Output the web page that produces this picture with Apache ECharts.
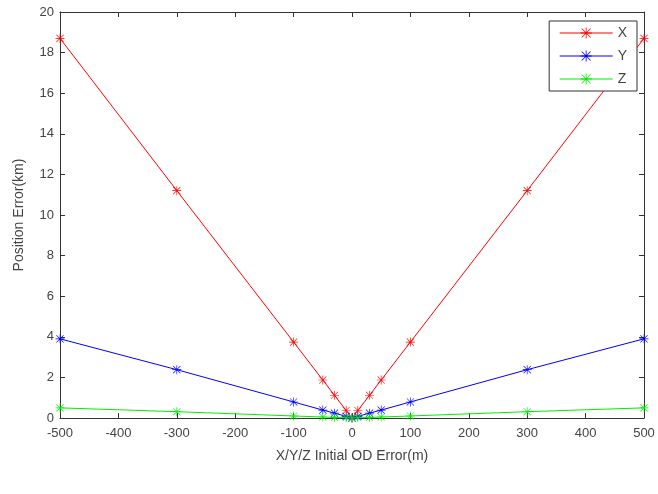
<!DOCTYPE html>
<html>
<head>
<meta charset="utf-8">
<script src="https://cdn.jsdelivr.net/npm/echarts@6/dist/echarts.min.js"></script>
<style>html,body{margin:0;padding:0;background:#fff}#c{width:658px;height:494px}</style>
</head>
<body>
<div id="c"></div>
<script>
const xErr = [-500, -300, -100, -50, -30, -10, 0, 10, 30, 50, 100, 300, 500];
const seriesX = [18.7, 11.2, 3.74, 1.87, 1.12, 0.37, 0, 0.37, 1.12, 1.87, 3.74, 11.2, 18.7];
const seriesY = [3.9, 2.38, 0.79, 0.39, 0.24, 0.08, 0, 0.08, 0.24, 0.39, 0.79, 2.38, 3.9];
const seriesZ = [0.5, 0.31, 0.1, 0.05, 0.03, 0.01, 0, 0.01, 0.03, 0.05, 0.1, 0.31, 0.5];
const names = ['X', 'Y', 'Z'];
const colors = ['#ff0000', '#0000ff', '#00ee00'];

const star = 'path://M0 9.3L20 9.3L20 10.7L0 10.7Z M9.3 0L10.7 0L10.7 20L9.3 20Z M2.5 1.5L18.5 17.5L17.5 18.5L1.5 2.5Z M18.5 2.5L2.5 18.5L1.5 17.5L17.5 1.5Z';

const font = 'Liberation Sans, Arial, sans-serif';
const axCol = '#333';

function mk(name, vals, col) {
  return {
    name: name, type: 'line',
    data: xErr.map((x, i) => [x, vals[i]]),
    symbol: star, symbolSize: 9,
    lineStyle: {color: col, width: 1},
    itemStyle: {color: col},
    animation: false
  };
}

const chart = echarts.init(document.getElementById('c'));
chart.setOption({
  backgroundColor: '#fff',
  textStyle: {fontFamily: font},
  grid: {left: 60, right: 14, top: 12, bottom: 76, containLabel: false},
  legend: {
    orient: 'vertical', right: 21, top: 21,
    data: names,
    itemWidth: 53, itemHeight: 14, itemGap: 9,
    padding: [5, 10, 5, 10],
    lineStyle: {width: 1},
    borderColor: axCol, borderWidth: 1, backgroundColor: '#fff',
    textStyle: {fontSize: 14, color: '#444', fontFamily: font}
  },
  xAxis: [{
    type: 'value', min: -500, max: 500, interval: 100, position: 'bottom',
    name: 'X/Y/Z Initial OD Error(m)', nameLocation: 'middle', nameGap: 31,
    nameTextStyle: {fontSize: 14, color: '#444', fontFamily: font},
    axisLine: {show: true, lineStyle: {color: axCol, width: 1}},
    axisTick: {show: true, inside: true, length: 5, lineStyle: {color: axCol}},
    axisLabel: {fontSize: 13, color: '#444', margin: 9, fontFamily: font},
    splitLine: {show: false}
  }, {
    type: 'value', min: -500, max: 500, interval: 100, position: 'top',
    axisLine: {show: true, onZero: false, lineStyle: {color: axCol, width: 1}},
    axisTick: {show: true, inside: true, length: 5, lineStyle: {color: axCol}},
    axisLabel: {show: false}, splitLine: {show: false}
  }],
  yAxis: [{
    type: 'value', min: 0, max: 20, interval: 2, position: 'left',
    name: 'Position Error(km)', nameLocation: 'middle', nameGap: 34,
    nameTextStyle: {fontSize: 14, color: '#444', fontFamily: font},
    axisLine: {show: true, onZero: false, lineStyle: {color: axCol, width: 1}},
    axisTick: {show: true, inside: true, length: 5, lineStyle: {color: axCol}},
    axisLabel: {fontSize: 13, color: '#444', margin: 6, fontFamily: font},
    splitLine: {show: false}
  }, {
    type: 'value', min: 0, max: 20, interval: 2, position: 'right',
    axisLine: {show: true, onZero: false, lineStyle: {color: axCol, width: 1}},
    axisTick: {show: true, inside: true, length: 5, lineStyle: {color: axCol}},
    axisLabel: {show: false}, splitLine: {show: false}
  }],
  series: [mk(names[0], seriesX, colors[0]), mk(names[1], seriesY, colors[1]), mk(names[2], seriesZ, colors[2])]
});
</script>
</body>
</html>
